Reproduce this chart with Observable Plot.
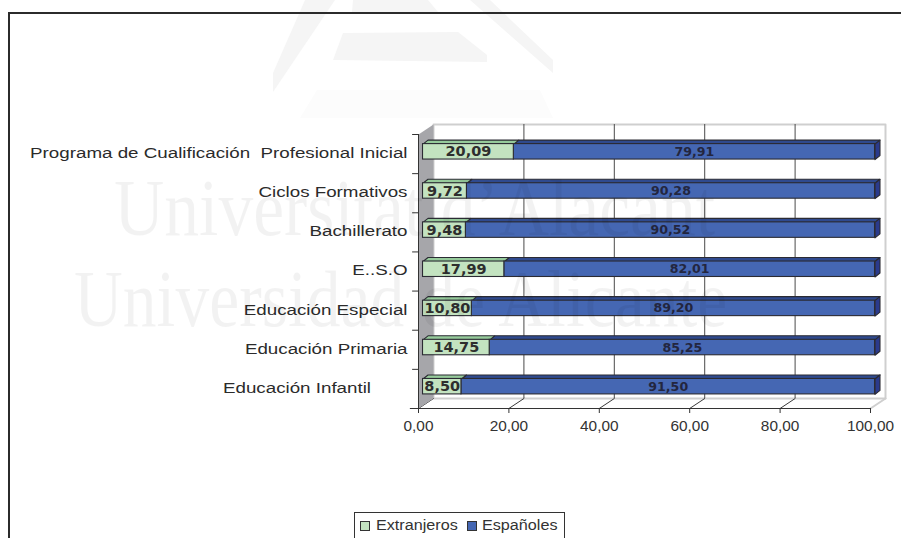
<!DOCTYPE html>
<html lang="es">
<head>
<meta charset="utf-8">
<title>Alumnado extranjero y español por etapa educativa</title>
<script src="https://cdn.jsdelivr.net/npm/d3@7"></script>
<script src="https://cdn.jsdelivr.net/npm/@observablehq/plot@0.6"></script>
<style>
  html, body { margin: 0; padding: 0; background: #fff; overflow: hidden; }
  #page { position: relative; width: 901px; height: 538px; overflow: hidden; font-family: "Liberation Sans", Arial, sans-serif; }
  #frame { position: absolute; left: 8px; top: 12px; right: 0; bottom: 0; border-top: 2px solid #2b2b2b; border-left: 2px solid #2b2b2b; }
  #chart { position: absolute; left: 0; top: 0; }
  #chart svg { display: block; }
  #legend { position: absolute; left: 354px; top: 512px; width: 211px; height: 26px; box-sizing: border-box;
            border: 1px solid #333; border-bottom: none; font-size: 14px; color: #333; }
  #legend span { position: absolute; top: 4px; white-space: nowrap; transform: scaleX(1.155); transform-origin: left center; }
  #legend i { position: absolute; top: 8px; width: 8px; height: 8px; border: 1px solid #333; }
  #seal { position: absolute; left: 0; top: 0; pointer-events: none; }
  .mark { position: absolute; font-family: "Liberation Serif", serif; font-size: 80px; color: rgba(0,0,0,.05);
          white-space: nowrap; pointer-events: none; transform-origin: left center; }
</style>
</head>
<body>
<div id="page">
  <svg id="seal" width="901" height="140">
    <g fill="#f5f5f5">
      <polygon points="305,0 335,0 273,92 273,73"/>
      <polygon points="353,0 428,0 438,12 352,12"/>
      <polygon points="343,33 458,32 487,55 487,62 333,60"/>
      <polygon points="470,0 490,0 553,60 553,73"/>
    </g>
    <polygon points="317,90 540,90 553,118 300,118" fill="#fcfcfc"/>
  </svg>
  <div id="frame"></div>
  <div id="chart"></div>
  <div id="legend">
    <i style="left:5px;background:#c3e3c0"></i><span style="left:21px">Extranjeros</span>
    <i style="left:112px;background:#4567b3"></i><span style="left:127px">Españoles</span>
  </div>
  <div class="mark" style="left:114px;top:163px;transform:scaleX(.87)">Universitat d’Alacant</div>
  <div class="mark" style="left:74px;top:254px;transform:scaleX(.845)">Universidad de Alicante</div>
</div>
<script>
// Reparto del alumnado por etapa, de abajo arriba en el eje.
const etapas = [
  "Educación Infantil       ",
  "Educación Primaria",
  "Educación Especial",
  "E..S.O",
  "Bachillerato",
  "Ciclos Formativos",
  "Programa de Cualificación  Profesional Inicial"
];
const extranjeros = [8.50, 14.75, 10.80, 17.99, 9.48, 9.72, 20.09];
const espanoles = [91.50, 85.25, 89.20, 82.01, 90.52, 90.28, 79.91];
const marcasX = [0, 20, 40, 60, 80, 100];

const coma = (v) => v.toFixed(2).replace(".", ",");

// Perspectiva del gráfico, en unidades de cada eje.
const fondoX = 3.32, fondoY = 0.255;   // caja
const barraX = 1.1, barraY = 0.102;    // prisma de las barras
const inicio = 1.0;                    // separación entre la pared y la barra
const altoSup = 0.755, altoInf = 0.36; // cara frontal dentro de cada banda

const filas = etapas.map((etapa, i) => ({
  etapa, i,
  ext: extranjeros[i],
  esp: espanoles[i],
  corte: inicio + extranjeros[i],
  fin: inicio + extranjeros[i] + espanoles[i],
  sup: i + altoSup,
  inf: i + altoInf
}));

// Caras como polígonos en coordenadas de los ejes.
const poligono = (clave, puntos) => puntos.map(([x, y]) => ({clave, x, y}));
const caraSuperior = (clave, a, b, y) =>
  poligono(clave, [[a, y], [b, y], [b + barraX, y + barraY], [a + barraX, y + barraY]]);

const techoVerde = filas.flatMap((f) => caraSuperior("v" + f.i, inicio, f.corte, f.sup));
const techoAzul = filas.flatMap((f) => caraSuperior("a" + f.i, f.corte, f.fin, f.sup));
const lateral = filas.flatMap((f) => poligono("l" + f.i, [
  [f.fin, f.sup], [f.fin + barraX, f.sup + barraY], [f.fin + barraX, f.inf + barraY], [f.fin, f.inf]
]));
const pared = poligono("pared", [[0, 0], [fondoX, fondoY], [fondoX, 7 + fondoY], [0, 7]]);
const fondo = poligono("fondo", [
  [fondoX, fondoY], [100 + fondoX, fondoY], [100 + fondoX, 7 + fondoY], [fondoX, 7 + fondoY]
]);
const suelo = marcasX.flatMap((m) => [{clave: m, x: m, y: 0}, {clave: m, x: m + fondoX, y: fondoY}]);
suelo.push({clave: "b", x: 100 + fondoX, y: fondoY}, {clave: "b", x: 100, y: 0});

const cara = (datos, fill) => Plot.line(datos, {
  x: "x", y: "y", z: "clave", fill, stroke: "#2b2b33", strokeWidth: 1.1, curve: "linear-closed"
});

const chart = Plot.plot({
  width: 901,
  height: 512,
  margin: 0,
  style: {background: "transparent", overflow: "visible", fontFamily: "Liberation Sans"},
  x: {domain: [0, 100], range: [418, 870]},
  y: {domain: [0, 7], range: [408, 134], axis: null},
  marks: [
    Plot.line(fondo, {x: "x", y: "y", z: "clave", stroke: "#cfcfcf", strokeWidth: 2, curve: "linear-closed"}),
    Plot.ruleX(marcasX.slice(1, -1), {x: (m) => m + fondoX, y1: fondoY, y2: 7 + fondoY, stroke: "#4a4a4a", strokeWidth: 1}),
    Plot.line(suelo.filter((p) => p.clave !== "b" && p.clave !== 100), {x: "x", y: "y", z: "clave", stroke: "#3a3a3a", strokeWidth: 1}),
    Plot.line(suelo.filter((p) => p.clave === "b"), {x: "x", y: "y", stroke: "#cfcfcf", strokeWidth: 2}),
    Plot.line(pared, {x: "x", y: "y", z: "clave", fill: "#a6a6aa", curve: "linear-closed"}),
    Plot.ruleY([0], {stroke: "#333", strokeWidth: 1, x1: -1.8, x2: 100}),
    Plot.ruleX([0], {y1: 0, y2: 7, stroke: "#333", strokeWidth: 1}),
    Plot.axisX({
      ticks: marcasX, tickFormat: coma, tickSize: 5, tickPadding: 7, stroke: "#333",
      fontSize: 15.4, color: "#333", label: null, anchor: "bottom", y: 0
    }),
    Plot.ruleY(d3.range(0, 8), {y: (d) => d, x1: -1.3, x2: 0, stroke: "#333"}),
    Plot.text(filas, {
      x: 0, y: (f) => f.i + 0.5, text: "etapa", dx: -11, dy: -1, textAnchor: "end",
      fontSize: 15.2, fill: "#2b2b2b", className: "etiqueta-etapa"
    }),
    cara(techoAzul, "#2f4a8f"),
    cara(lateral, "#2a3a8c"),
    cara(techoVerde, "#96cb9b"),
    Plot.rect(filas, {x1: "corte", x2: "fin", y1: "inf", y2: "sup", fill: "#4567b3", stroke: "#2b2b33", strokeWidth: 1.1}),
    Plot.rect(filas, {x1: inicio, x2: "corte", y1: "inf", y2: "sup", fill: "#c3e3c0", stroke: "#2b2b33", strokeWidth: 1.1}),
    Plot.text(filas, {
      x: (f) => (inicio + f.corte) / 2, y: (f) => (f.sup + f.inf) / 2, text: (f) => coma(f.ext),
      fontFamily: "DejaVu Sans", fontWeight: "bold", fontSize: 14.5, fill: "#2e2e2e"
    }),
    Plot.text(filas, {
      x: (f) => (f.corte + f.fin) / 2, y: (f) => (f.sup + f.inf) / 2, text: (f) => coma(f.esp),
      fontFamily: "DejaVu Sans", fontWeight: "bold", fontSize: 12.6, fill: "#23263f"
    })
  ]
});
document.getElementById("chart").append(chart);

// Las etiquetas de etapa van ensanchadas en horizontal.
chart.querySelectorAll(".etiqueta-etapa text").forEach((t) => {
  t.setAttribute("textLength", t.getComputedTextLength() * 1.235);
  t.setAttribute("lengthAdjust", "spacingAndGlyphs");
});
</script>
</body>
</html>
